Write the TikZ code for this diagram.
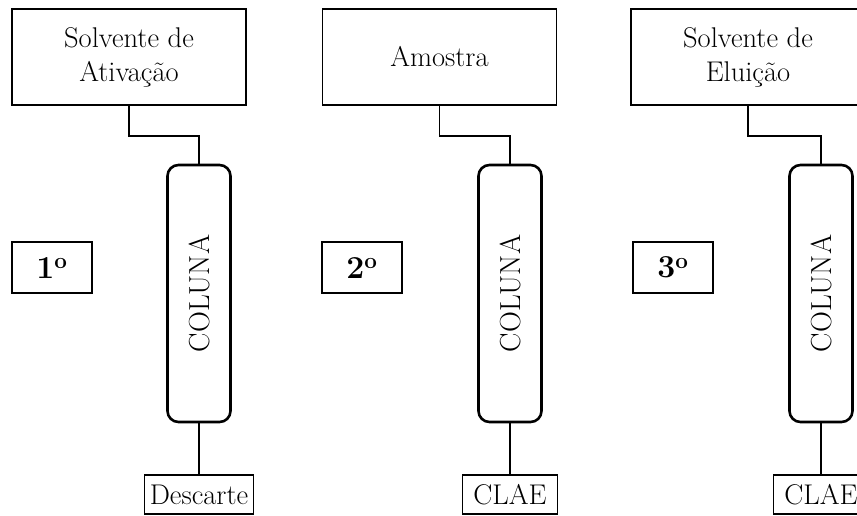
\documentclass[tikz,border=0pt]{standalone}
\usepackage{graphicx}
\tikzset{
  every source node/.style={
    draw,line width=1.7pt,minimum width=234pt,minimum height=96pt,
    align=center,inner sep=0pt,font=\fontsize{28.5}{34}\selectfont,
  },
  every step node/.style={
    draw,line width=1.8pt,minimum width=80pt,minimum height=51pt,
    inner sep=0pt,font=\fontsize{32}{34}\selectfont\bfseries,
  },
  every column node/.style={
    draw,line width=2.6pt,rounded corners=11pt,minimum width=63pt,
    minimum height=257pt,inner sep=0pt,font=\fontsize{29}{32}\selectfont,
  },
  every outlet node/.style={
    draw,line width=1.4pt,minimum height=39pt,inner sep=0pt,
    font=\fontsize{28.5}{32}\selectfont,
  },
  every pipe/.style={line width=1.6pt},
}

\begin{document}
\begin{tikzpicture}[x=1pt,y=-1pt]
   \useasboundingbox (0,0) rectangle (857,515);
   \clip (0,0) rectangle (857,515);

   % NODES
   \node[every source node] (src1) at (129.0, 57.0) {Solvente de\\Ativação}; % source
   \node[every step node] (step1) at (52.0, 267.5) {1\textsuperscript{o}}; % step
   \node[every column node] (col1) at (199.0, 293.5) {\rotatebox{90}{COLUNA}}; % column
   \node[every outlet node,minimum width=109pt] (out1) at (199.0, 494.5) {Descarte}; % outlet

   % DRAW PIPES
   \draw[every pipe] (src1.south) -- ++(0,30) -| (col1.north);
   \draw[every pipe] (col1.south) -- (out1.north);

   % NODES
   \node[every source node] (src2) at (439.5, 57.0) {Amostra}; % source
   \node[every step node] (step2) at (362.0, 267.5) {2\textsuperscript{o}}; % step
   \node[every column node] (col2) at (510.0, 293.5) {\rotatebox{90}{COLUNA}}; % column
   \node[every outlet node,minimum width=95pt] (out2) at (510.0, 494.5) {CLAE}; % outlet

   % DRAW PIPES
   \draw[every pipe] (src2.south) -- ++(0,30) -| (col2.north);
   \draw[every pipe] (col2.south) -- (out2.north);

   % NODES
   \node[every source node] (src3) at (748.0, 57.0) {Solvente de\\Eluição}; % source
   \node[every step node] (step3) at (673.0, 267.5) {3\textsuperscript{o}}; % step
   \node[every column node] (col3) at (821.0, 293.5) {\rotatebox{90}{COLUNA}}; % column
   \node[every outlet node,minimum width=95pt] (out3) at (821.0, 494.5) {CLAE}; % outlet

   % DRAW PIPES
   \draw[every pipe] (src3.south) -- ++(0,30) -| (col3.north);
   \draw[every pipe] (col3.south) -- (out3.north);

\end{tikzpicture}
\end{document}
